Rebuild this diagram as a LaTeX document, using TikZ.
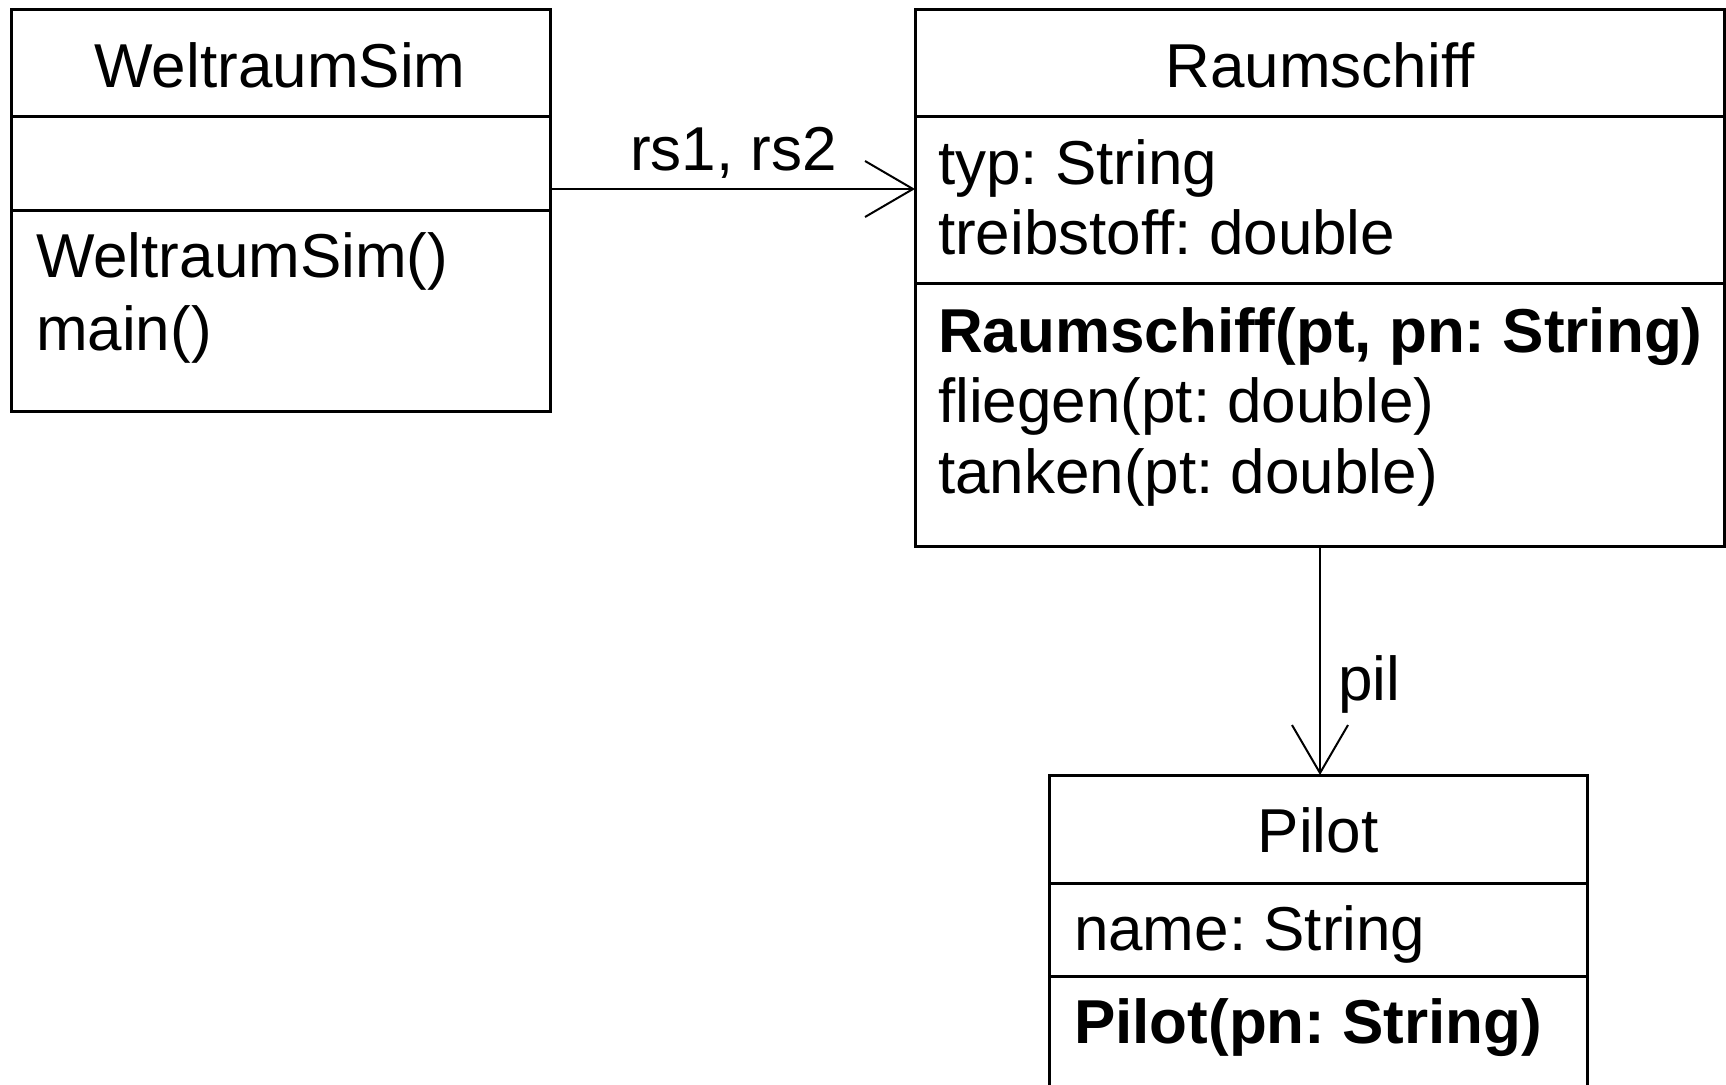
\documentclass[tikz,border=0pt]{standalone}
\usepackage{fontspec}
\setmainfont{Liberation Sans}
\usetikzlibrary{arrows.meta}
\frenchspacing
\begin{document}
\begin{tikzpicture}[x=1pt,y=-1pt,
  umlbox/.style={draw, line width=3pt, inner sep=0pt, outer sep=0pt, anchor=north west},
  divider/.style={line width=3pt},
  txt/.style={inner sep=0pt, outer sep=0pt, anchor=base west, font=\fontsize{62}{72}\selectfont},
  ttl/.style={inner sep=0pt, outer sep=0pt, anchor=base, font=\fontsize{62}{72}\selectfont},
  btxt/.style={txt, font=\fontsize{62}{72}\selectfont\bfseries},
  assoc/.style={line width=2.5pt, -{Straight Barb[length=48pt, width=56pt, line width=2pt]}}]
\useasboundingbox (0,0) rectangle (1726,1084);
\clip (0,0) rectangle (1726,1084);
\fill[white] (0,0) rectangle (1726,1084);
% WeltraumSim
\node[umlbox, minimum width=539pt, minimum height=402pt] (ws) at (11,9) {};
\draw[divider] (ws.west |- 0,116) -- (ws.east |- 0,116);
\draw[divider] (ws.west |- 0,210) -- (ws.east |- 0,210);
\node[ttl] (wst) at (280,87) {\frenchspacing WeltraumSim};
\node[txt] (wsm1) at (36,277) {WeltraumSim()};
\node[txt] (wsm2) at (36,350) {main()};
% Raumschiff
\node[umlbox, minimum width=809pt, minimum height=537pt] (rs) at (915,9) {};
\draw[divider] (rs.west |- 0,116) -- (rs.east |- 0,116);
\draw[divider] (rs.west |- 0,283) -- (rs.east |- 0,283);
\node[ttl] (rst) at (1320,87) {Raumschiff};
\node[txt] (rsa1) at (938,184) {\frenchspacing typ: String};
\node[txt] (rsa2) at (938,254) {\frenchspacing treibstoff: double};
\node[btxt] (rsm1) at (938,352) {\frenchspacing Raumschiff(pt, pn: String)};
\node[txt] (rsm2) at (938,422) {\frenchspacing fliegen(pt: double)};
\node[txt] (rsm3) at (938,493) {\frenchspacing tanken(pt: double)};
% Pilot
\node[umlbox, minimum width=538pt, minimum height=400pt] (pl) at (1049,775) {};
\draw[divider] (pl.west |- 0,883) -- (pl.east |- 0,883);
\draw[divider] (pl.west |- 0,976) -- (pl.east |- 0,976);
\node[ttl] (plt) at (1318,852) {Pilot};
\node[txt] (pla1) at (1074,950) {\frenchspacing name: String};
\node[btxt] (plm1) at (1074,1043) {\frenchspacing Pilot(pn: String)};
% associations
\draw[assoc] (ws.east |- 0,189) -- (rs.west |- 0,189);
\node[txt] (l1) at (630,170) {\frenchspacing rs1, rs2};
\draw[assoc] (rs.south -| 1320,0) -- (pl.north -| 1320,0);
\node[txt] (l2) at (1338,700) {pil};
\end{tikzpicture}
\end{document}
